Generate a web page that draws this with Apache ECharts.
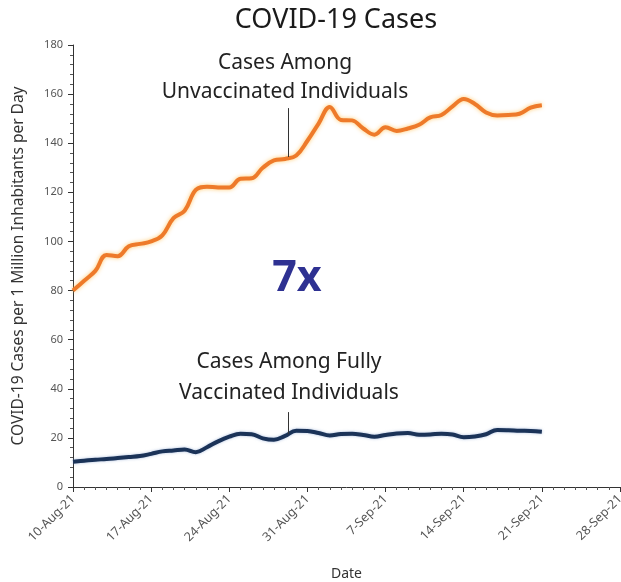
<!DOCTYPE html>
<html>
<head>
<meta charset="utf-8">
<script src="https://cdn.jsdelivr.net/npm/echarts@6/dist/echarts.min.js"></script>
<style>
  html, body { margin: 0; padding: 0; background: #fff; }
  #chart { width: 621px; height: 582px; }
</style>
</head>
<body>
<div id="chart"></div>
<script>
// daily values, day 0 = 10-Aug-21 ... day 42 = 21-Sep-21
const unvaccinated = [
  80, 84, 88, 94.5, 94, 98, 99, 100, 102.5, 109.5, 112.5, 121, 122.3, 122,
  122, 125.5, 125.7, 130, 133, 133.6, 135, 141, 148, 154.8, 149.5, 149.3,
  146, 143.5, 146.5, 145, 146, 147.5, 150.5, 151.5, 155, 158, 156, 152.5,
  151.3, 151.5, 152, 154.5, 155.5
];
const vaccinated = [
  10.3, 10.7, 11.1, 11.4, 11.8, 12.2, 12.6, 13.5, 14.5, 14.9, 15.3, 14.2,
  16.2, 18.6, 20.5, 21.7, 21.5, 19.8, 19.2, 20.8, 22.9, 22.8, 22, 21, 21.6,
  21.7, 21.2, 20.5, 21.2, 21.8, 22, 21.3, 21.4, 21.7, 21.4, 20.3, 20.6,
  21.5, 23.2, 23.1, 22.9, 22.8, 22.5
];
const tickLabels = ['10-Aug-21', '17-Aug-21', '24-Aug-21', '31-Aug-21',
  '7-Sep-21', '14-Sep-21', '21-Sep-21', '28-Sep-21'];

const font = '"Noto Sans", sans-serif';
const chart = echarts.init(document.getElementById('chart'), null, { renderer: 'canvas' });

const toPairs = arr => arr.map((v, i) => [i, v]);

chart.setOption({
  animation: false,
  title: {
    text: 'COVID-19 Cases',
    left: 331,
    textAlign: 'center',
    top: 2,
    textStyle: { fontFamily: font, fontSize: 27, fontWeight: 'normal', color: '#1a1a1a' }
  },
  grid: { left: 73, right: 1, top: 45, bottom: 95, outerBoundsMode: 'none', containLabel: false },
  xAxis: {
    type: 'value',
    min: 0, max: 49, interval: 7,
    name: 'Date',
    nameLocation: 'middle',
    nameGap: 80,
    nameTextStyle: { fontFamily: font, fontSize: 14, color: '#333' },
    axisLine: { lineStyle: { color: '#333', width: 1 } },
    axisTick: { length: 5, lineStyle: { color: '#333' } },
    minorTick: { show: true, splitNumber: 7, length: 3, lineStyle: { color: '#555' } },
    splitLine: { show: false },
    axisLabel: {
      rotate: 45,
      margin: 10,
      fontFamily: font, fontSize: 12.5, color: '#555',
      formatter: v => tickLabels[Math.round(v / 7)] || ''
    }
  },
  yAxis: {
    type: 'value',
    min: 0, max: 180, interval: 20,
    name: 'COVID-19 Cases per 1 Million Inhabitants per Day',
    nameLocation: 'middle',
    nameGap: 46,
    nameTextStyle: { fontFamily: font, fontSize: 15.5, color: '#333' },
    axisLine: { show: true, lineStyle: { color: '#333', width: 1 } },
    axisTick: { show: true, length: 5, lineStyle: { color: '#333' } },
    minorTick: { show: true, splitNumber: 5, length: 3, lineStyle: { color: '#555' } },
    splitLine: { show: false },
    axisLabel: { fontFamily: font, fontSize: 11, color: '#555', margin: 10 }
  },
  series: [
    {
      type: 'line',
      data: toPairs(unvaccinated),
      smooth: 0.4,
      symbol: 'none',
      lineStyle: { color: '#ee7a2a', width: 4, shadowColor: 'rgba(255,190,80,0.8)', shadowBlur: 4 },
      markLine: {
        silent: true,
        symbol: 'none',
        label: { show: false },
        lineStyle: { color: '#333', width: 1, type: 'solid' },
        data: [[{ coord: [19.3, 154.3] }, { coord: [19.3, 134.4] }]]
      }
    },
    {
      type: 'line',
      data: toPairs(vaccinated),
      smooth: 0.4,
      symbol: 'none',
      lineStyle: { color: '#1b3358', width: 4, shadowColor: 'rgba(120,150,200,0.6)', shadowBlur: 3 },
      markLine: {
        silent: true,
        symbol: 'none',
        label: { show: false },
        lineStyle: { color: '#333', width: 1, type: 'solid' },
        data: [[{ coord: [19.3, 30.5] }, { coord: [19.3, 21.5] }]]
      }
    }
  ],
  graphic: [
    {
      type: 'text',
      x: 285, y: 78,
      style: {
        text: 'Cases Among\nUnvaccinated Individuals',
        fontFamily: font, fontSize: 21, lineHeight: 29, fill: '#222',
        align: 'center', verticalAlign: 'middle'
      }
    },
    {
      type: 'text',
      x: 289, y: 378,
      style: {
        text: 'Cases Among Fully\nVaccinated Individuals',
        fontFamily: font, fontSize: 21, lineHeight: 31, fill: '#222',
        align: 'center', verticalAlign: 'middle'
      }
    },
    {
      type: 'text',
      x: 297, y: 279,
      style: {
        text: '7x',
        fontFamily: font, fontSize: 43, fontWeight: 'bold', fill: '#2e3192',
        align: 'center', verticalAlign: 'middle'
      }
    }
  ]
});
</script>
</body>
</html>
